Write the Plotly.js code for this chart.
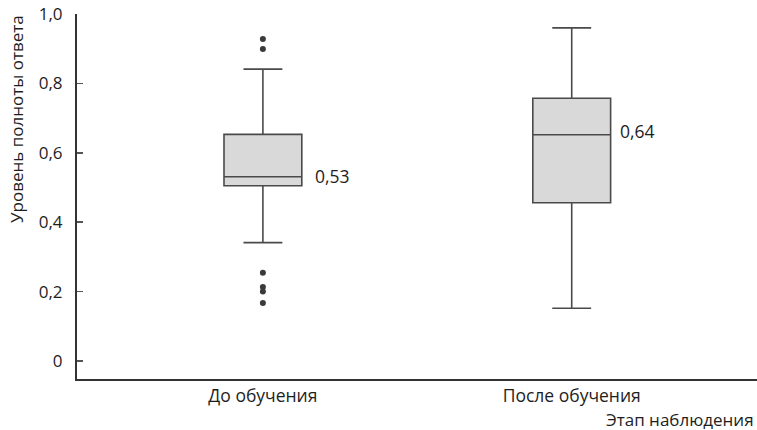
<!DOCTYPE html>
<html>
<head>
<meta charset="utf-8">
<script src="https://cdn.plot.ly/plotly-3.0.1.min.js"></script>
<style>html,body{margin:0;padding:0;background:#fff;}#chart{width:757px;height:430px;}</style>
</head>
<body>
<div id="chart"></div>
<script>
// Data
var categories = ["До обучения", "После обучения"];
var q1Values = [0.505, 0.456];
var medianValues = [0.531, 0.652];
var q3Values = [0.653, 0.757];
var lowerWhisker = [0.341, 0.152];
var upperWhisker = [0.841, 0.960];
var medianLabels = ["0,53", "0,64"];
var outlierGroup = [0, 0, 0, 0, 0, 0];
var outlierValues = [0.928, 0.899, 0.254, 0.213, 0.200, 0.167];
var yTickVals = [0, 0.2, 0.4, 0.6, 0.8, 1.0];
var yTickText = ["0", "0,2", "0,4", "0,6", "0,8", "1,0"];
var yTitle = "Уровень полноты ответа";
var xTitle = "Этап наблюдения";

var idx = categories.map(function (c, i) { return i; });
var fontFam = "Open Sans, sans-serif";
var ink = "#1e1e1e";

var boxTrace = {
  type: "box",
  x: idx,
  q1: q1Values,
  median: medianValues,
  q3: q3Values,
  lowerfence: lowerWhisker,
  upperfence: upperWhisker,
  width: 0.252,
  whiskerwidth: 0.5,
  fillcolor: "#d9d9d9",
  line: { color: "#4a4a4a", width: 1.6 },
  boxpoints: false,
  hoverinfo: "skip",
  showlegend: false
};

var outlierTrace = {
  type: "scatter",
  mode: "markers",
  x: outlierGroup,
  y: outlierValues,
  marker: { color: "#3a3a3a", size: 6 },
  hoverinfo: "skip",
  showlegend: false
};

var annotations = idx.map(function (i) {
  return {
    x: i + 0.126, y: medianValues[i], xref: "x", yref: "y",
    text: medianLabels[i], showarrow: false,
    xanchor: "left", yanchor: "middle",
    xshift: i === 0 ? 11 : 7, yshift: i === 0 ? 1 : 4,
    font: { family: fontFam, size: 17.5, color: ink }
  };
});
annotations.push({
  x: -60 / 680, y: 1.003, xref: "paper", yref: "paper",
  text: yTitle, showarrow: false, textangle: -90,
  xanchor: "center", yanchor: "top",
  font: { family: fontFam, size: 17, color: ink }
});
annotations.push({
  x: 1, y: 0, xref: "paper", yref: "paper",
  text: xTitle, showarrow: false,
  xanchor: "right", yanchor: "middle", xshift: -1, yshift: -40,
  font: { family: fontFam, size: 17, color: ink }
});

var layout = {
  width: 757, height: 430,
  margin: { l: 77, r: 0, t: 14, b: 51 },
  paper_bgcolor: "#fff", plot_bgcolor: "#fff",
  font: { family: fontFam, color: ink },
  showlegend: false,
  xaxis: {
    range: [-0.602, 1.6],
    tickvals: idx, ticktext: categories,
    showline: true, linecolor: "#333", linewidth: 2,
    ticks: "", showgrid: false, zeroline: false,
    tickfont: { family: fontFam, size: 17.5, color: ink }
  },
  yaxis: {
    range: [-0.052, 1.0],
    tickvals: yTickVals, ticktext: yTickText,
    showline: true, linecolor: "#333", linewidth: 2,
    ticks: "inside", ticklen: 6, tickwidth: 1.5, tickcolor: "#555",
    ticklabelstandoff: 9,
    showgrid: false, zeroline: false,
    tickfont: { family: fontFam, size: 17, color: ink }
  },
  annotations: annotations
};

Plotly.newPlot("chart", [boxTrace, outlierTrace], layout, { staticPlot: true, displayModeBar: false });
</script>
</body>
</html>
